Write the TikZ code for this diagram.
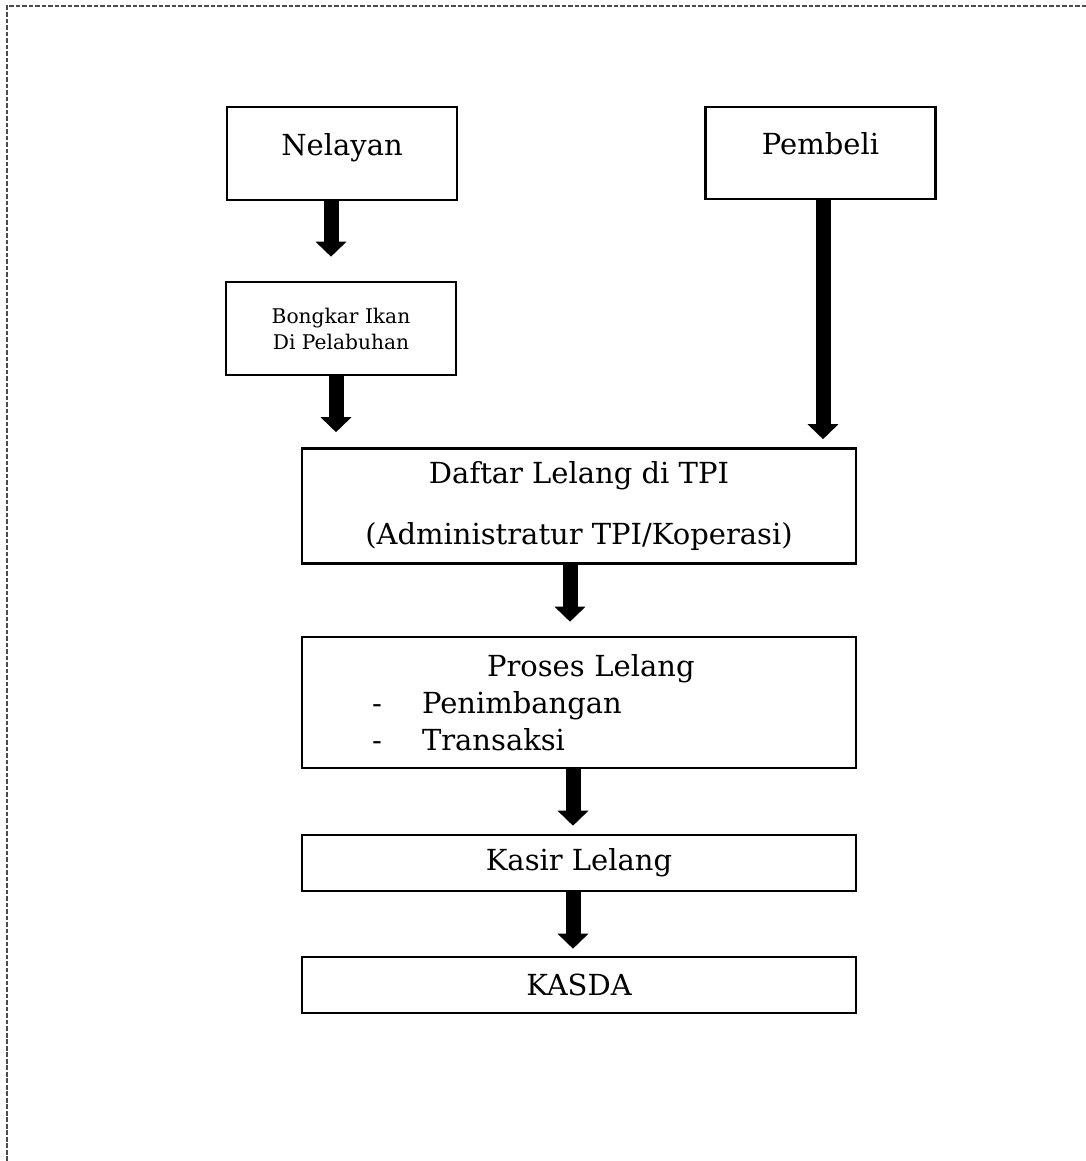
\documentclass[tikz,border=0pt]{standalone}
\usepackage{fontspec}
\setmainfont{DejaVu Serif}
\usetikzlibrary{positioning}
\usetikzlibrary{arrows.meta}
\setlength{\parindent}{0pt}

\tikzset{
  box/.style={draw, rectangle, line width=1.5pt, inner sep=0pt, align=center,
    font=\fontsize{16.5}{21}\selectfont},
  bigarrow/.style={draw, line width=0.3cm, -{Triangle[width=0.6cm,length=0.3cm]}}
}

\begin{document}
\begin{tikzpicture}[x=0.02cm, y=-0.02cm]
  \useasboundingbox (0,0) rectangle (1086,1161);
  \draw[black!70, line width=1pt, dash pattern=on 2.6pt off 1.1pt] (7,1161) -- (7,6) -- (1086,6);

  % boxes
  \node[box, minimum width=4.6cm, minimum height=1.86cm, text depth=0.38cm] (nelayan) at (342,153.5) {Nelayan};
  \node[box, minimum width=4.6cm, minimum height=1.84cm, text depth=0.38cm] (pembeli) at (820.5,153) {Pembeli};
  \node[box, minimum width=4.6cm, minimum height=1.86cm, font=\fontsize{11.5}{14.8}\selectfont] (bongkar) at (341,328.5) {Bongkar Ikan\\Di Pelabuhan};
  \node[box, minimum width=11.08cm, minimum height=2.3cm] (daftar) at (579,506) {Daftar Lelang di TPI\\[13.6pt](Administratur TPI/Koperasi)};
  \node[box, minimum width=11.08cm, minimum height=2.62cm, text width=11.08cm, align=left] (proses) at (579,702.5) {%
    \hspace*{3.7cm}Proses Lelang\\
    \hspace*{1.4cm}\makebox[1cm][l]{-}Penimbangan\\
    \hspace*{1.4cm}\makebox[1cm][l]{-}Transaksi};
  \node[box, minimum width=11.08cm, minimum height=1.12cm] (kasir) at (579,863) {Kasir Lelang};
  \node[box, minimum width=11.08cm, minimum height=1.12cm] (kasda) at (579,985) {KASDA};

  % arrows
  \draw[bigarrow, shorten >=0.48cm] ([xshift=-0.22cm]nelayan.south) -- ([xshift=-0.22cm]nelayan.south |- bongkar.north);
  \draw[bigarrow, shorten >=0.3cm] ([xshift=-0.1cm]bongkar.south) -- ([xshift=-0.1cm]bongkar.south |- daftar.north);
  \draw[bigarrow, shorten >=0.16cm] ([xshift=0.05cm]pembeli.south) -- ([xshift=0.05cm]pembeli.south |- daftar.north);
  \draw[bigarrow, shorten >=0.28cm] ([xshift=-0.18cm]daftar.south) -- ([xshift=-0.18cm]daftar.south |- proses.north);
  \draw[bigarrow, shorten >=0.16cm] ([xshift=-0.12cm]proses.south) -- ([xshift=-0.12cm]proses.south |- kasir.north);
  \draw[bigarrow, shorten >=0.14cm] ([xshift=-0.12cm]kasir.south) -- ([xshift=-0.12cm]kasir.south |- kasda.north);
\end{tikzpicture}
\end{document}
